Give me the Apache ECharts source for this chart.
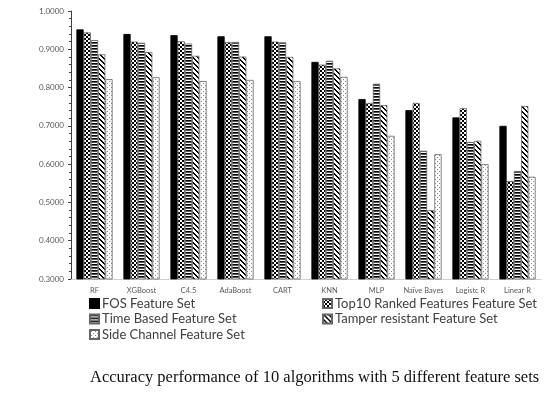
<!DOCTYPE html>
<html><head><meta charset="utf-8">
<script src="https://cdn.jsdelivr.net/npm/echarts@6/dist/echarts.min.js"></script>
<style>html,body{margin:0;padding:0;background:#fff}#c{width:555px;height:393px}</style>
</head><body><div id="c"></div>
<script>
const categories = ['RF','XGBoost','C4.5','AdaBoost','CART','KNN','MLP','Naïve Bayes','Logistc R','Linear R'];
const seriesNames = ['FOS Feature Set','Top10 Ranked Features Feature Set','Time Based Feature Set','Tamper resistant Feature Set','Side Channel Feature Set'];
const fosValues = [0.952, 0.940, 0.937, 0.934, 0.934, 0.867, 0.770, 0.741, 0.722, 0.700];
const top10Values = [0.944, 0.920, 0.921, 0.919, 0.920, 0.860, 0.760, 0.760, 0.746, 0.556];
const timeValues = [0.924, 0.917, 0.915, 0.919, 0.918, 0.870, 0.810, 0.635, 0.658, 0.582];
const tamperValues = [0.887, 0.893, 0.883, 0.881, 0.880, 0.850, 0.754, 0.480, 0.661, 0.752];
const sideValues = [0.822, 0.827, 0.817, 0.820, 0.817, 0.828, 0.674, 0.626, 0.600, 0.567];
const yTicks = {min: 0.3, max: 1.0, interval: 0.1};
const caption = 'Accuracy performance of 10 algorithms with 5 different feature sets';

function mk(w, h, draw) {
  const c = document.createElement('canvas'); c.width = w; c.height = h;
  const g = c.getContext('2d'); g.fillStyle = '#fff'; g.fillRect(0, 0, w, h); draw(g);
  return {image: c, repeat: 'repeat'};
}
const checker = mk(4, 4, g => { g.fillStyle = '#000'; g.fillRect(0,0,4,4); g.fillStyle = '#fff'; g.fillRect(0,0,2,2); g.fillRect(2,2,2,2); });
const hstripe = mk(4, 3, g => { g.fillStyle = '#000'; g.fillRect(0,0,4,1); g.fillStyle = '#555'; g.fillRect(0,1,4,1); });
const diag = mk(5, 5, g => {
  g.fillStyle = '#000';
  for (let i = 0; i < 5; i++) { g.fillRect(i, i, 1, 1); g.fillRect((i+1)%5, i, 1, 1); }
});
const dots = mk(4, 4, g => { g.fillStyle = '#8a8a8a'; g.fillRect(1,1,1,1); g.fillRect(3,3,1,1); });

const fills = ['#000', checker, hstripe, diag, dots];
const values = [fosValues, top10Values, timeValues, tamperValues, sideValues];

const legendCommon = {orient: 'vertical', top: 297, itemWidth: 9, itemHeight: 9, itemGap: 2.5,
  selectedMode: false, icon: 'rect', padding: 0,
  textStyle: {fontFamily: 'Lato', fontSize: 13, color: '#404040', padding: [0,0,0,-2]}};

const chart = echarts.init(document.getElementById('c'), null, {renderer: 'canvas'});
chart.setOption({
  animation: false,
  backgroundColor: '#fff',
  grid: {left: 71, right: 14, top: 11, bottom: 114},
  title: {text: caption, left: 90, top: 369, padding: 0,
    textStyle: {fontFamily: 'Liberation Serif', fontSize: 16.5, fontWeight: 'normal', color: '#111'}},
  legend: [
    Object.assign({data: [seriesNames[0], seriesNames[2], seriesNames[4]], left: 89}, legendCommon),
    Object.assign({data: [seriesNames[1], seriesNames[3]], left: 322}, legendCommon)
  ],
  xAxis: {type: 'category', data: categories,
    axisLine: {lineStyle: {color: '#d0d0d0'}}, axisTick: {show: false},
    axisLabel: {fontFamily: 'Lato', fontSize: 7.5, color: '#595959', margin: 8, interval: 0}},
  yAxis: {type: 'value', min: yTicks.min, max: yTicks.max, interval: yTicks.interval,
    axisLine: {show: true, lineStyle: {color: '#404040'}},
    axisTick: {show: true, length: 3, lineStyle: {color: '#404040'}},
    minorTick: {show: true, splitNumber: 5, length: 2, lineStyle: {color: '#404040'}},
    splitLine: {show: false},
    axisLabel: {fontFamily: 'Lato', fontSize: 8, color: '#595959', margin: 7,
      formatter: v => v.toFixed(4)}},
  series: seriesNames.map((n, i) => ({
    name: n, type: 'bar', data: values[i], barGap: '0%', barCategoryGap: '23%',
    itemStyle: {color: fills[i], borderColor: i === 0 ? '#000' : '#666', borderWidth: 0.8}
  }))
});
</script></body></html>
